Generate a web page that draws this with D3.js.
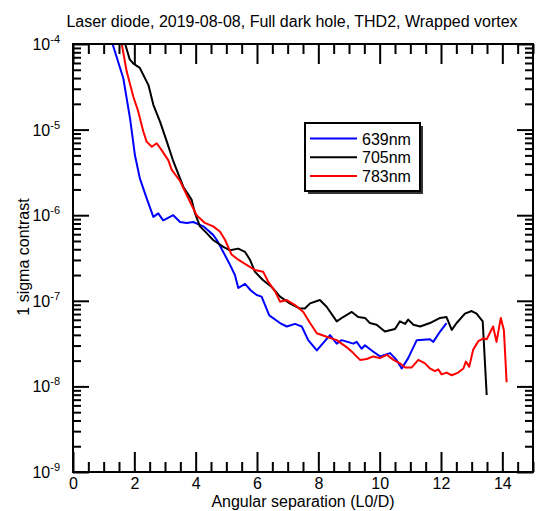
<!DOCTYPE html>
<html><head><meta charset="utf-8">
<script src="https://cdn.jsdelivr.net/npm/d3@7"></script>
<style>body{margin:0;background:#fff}text{font-family:"Liberation Sans",Arial,sans-serif}</style>
</head><body><svg id="c" width="543" height="511"></svg>
<script>
const title = "Laser diode, 2019-08-08, Full dark hole, THD2, Wrapped vortex";
const xLabel = "Angular separation (L0/D)";
const yLabel = "1 sigma contrast";
const seriesNames = ["639nm","705nm","783nm"];
const seriesColors = ["#0000ff","#000000","#ff0000"];
const xTicks = [0,2,4,6,8,10,12,14];
const yTicks = [1e-9,1e-8,1e-7,1e-6,1e-5,1e-4];
const yTickExp = ["-9","-8","-7","-6","-5","-4"];

const x639 = [1.20,1.29,1.64,1.86,2.02,2.18,2.40,2.62,2.78,2.94,3.10,3.27,3.49,3.71,3.92,4.25,4.57,4.69,4.90,5.12,5.28,5.39,5.61,5.80,5.99,6.15,6.40,6.75,6.97,7.24,7.46,7.67,7.95,8.38,8.60,8.76,9.14,9.25,9.41,9.52,9.74,10.01,10.34,10.55,10.72,10.93,11.21,11.64,11.75,11.97,12.18];
const y639 = [1.58e-4,1.0e-4,3.98e-5,1.35e-5,5.01e-6,2.69e-6,1.58e-6,9.55e-7,1.05e-6,8.71e-7,9.33e-7,1.0e-6,8.32e-7,8.13e-7,8.32e-7,7.41e-7,5.89e-7,5.13e-7,3.72e-7,2.63e-7,2.00e-7,1.41e-7,1.58e-7,1.32e-7,1.17e-7,1.12e-7,6.76e-8,5.50e-8,5.01e-8,5.37e-8,5.01e-8,3.47e-8,2.63e-8,3.98e-8,3.16e-8,3.47e-8,3.16e-8,3.31e-8,2.75e-8,3.02e-8,2.63e-8,2.24e-8,2.45e-8,2.04e-8,1.62e-8,2.14e-8,3.47e-8,3.55e-8,3.31e-8,4.37e-8,5.50e-8];

const x705 = [1.65,1.70,1.85,1.97,2.18,2.46,2.62,2.84,3.06,3.27,3.49,3.60,3.87,3.98,4.14,4.36,4.57,4.90,5.12,5.39,5.61,5.77,5.93,6.20,6.48,6.75,7.07,7.40,7.56,7.73,8.05,8.27,8.60,8.81,9.09,9.30,9.52,9.68,9.90,10.17,10.50,10.66,10.83,10.93,11.10,11.32,11.64,11.97,12.18,12.35,12.51,12.78,13.00,13.16,13.36,13.49];
const y705 = [1.26e-4,1.0e-4,6.61e-5,5.89e-5,5.25e-5,3.31e-5,1.95e-5,1.23e-5,7.24e-6,4.27e-6,2.69e-6,2.14e-6,1.51e-6,1.05e-6,7.41e-7,6.17e-7,5.13e-7,4.27e-7,3.89e-7,4.07e-7,3.72e-7,3.02e-7,2.19e-7,1.74e-7,1.45e-7,1.12e-7,9.33e-8,8.13e-8,8.13e-8,9.33e-8,1.02e-7,8.51e-8,5.75e-8,6.46e-8,7.41e-8,6.46e-8,6.31e-8,5.50e-8,5.25e-8,4.37e-8,4.68e-8,5.75e-8,5.37e-8,6.03e-8,5.25e-8,5.01e-8,5.50e-8,6.31e-8,6.46e-8,4.57e-8,5.50e-8,7.08e-8,7.59e-8,7.08e-8,5.75e-8,7.94e-9];

const x783 = [1.55,1.59,1.75,1.97,2.13,2.29,2.40,2.57,2.73,2.89,3.11,3.22,3.49,3.76,4.03,4.30,4.57,4.79,4.96,5.17,5.39,5.66,5.93,6.20,6.37,6.59,6.75,6.97,7.24,7.51,7.73,7.95,8.27,8.60,8.92,9.14,9.36,9.58,9.79,10.01,10.23,10.45,10.66,10.83,11.04,11.26,11.48,11.64,11.80,11.91,12.02,12.18,12.35,12.56,12.73,12.81,12.92,13.05,13.22,13.38,13.49,13.70,13.81,13.95,14.05,14.14];
const y783 = [1.26e-4,1.0e-4,4.79e-5,2.40e-5,1.62e-5,9.55e-6,7.24e-6,6.31e-6,6.92e-6,5.75e-6,4.37e-6,3.39e-6,2.51e-6,1.58e-6,1.0e-6,8.13e-7,7.41e-7,6.46e-7,5.13e-7,3.47e-7,3.02e-7,2.63e-7,2.29e-7,2.19e-7,1.66e-7,1.29e-7,9.77e-8,1.02e-7,8.91e-8,7.41e-8,5.50e-8,4.17e-8,3.80e-8,3.47e-8,2.88e-8,2.45e-8,2.04e-8,2.09e-8,2.24e-8,2.14e-8,2.34e-8,2.04e-8,1.86e-8,1.66e-8,1.66e-8,2.04e-8,1.86e-8,1.62e-8,1.51e-8,1.58e-8,1.38e-8,1.45e-8,1.35e-8,1.45e-8,1.62e-8,1.95e-8,1.70e-8,2.69e-8,3.39e-8,3.63e-8,3.55e-8,5.01e-8,3.31e-8,6.31e-8,4.57e-8,1.12e-8];

const seriesX = [x639,x705,x783];
const seriesY = [y639,y705,y783];

const L=73,R=533,T=44,B=472;
const FS=16;
const svg = d3.select("#c");
const x = d3.scaleLinear().domain([0,15]).range([L,R]);
const y = d3.scaleLog().domain([1e-9,1e-4]).range([B,T]);

svg.append("defs").append("clipPath").attr("id","clip").append("rect")
  .attr("x",L).attr("y",T).attr("width",R-L).attr("height",B-T);

const xMinor = d3.range(0,15.01,0.5).filter(v=>v%2!==0);
const yMinor = [];
for(let e=-9;e<-4;e++) for(let m=2;m<=9;m++) yMinor.push(m*Math.pow(10,e));

function styleAxis(g){ g.select(".domain").remove(); g.selectAll("line").attr("stroke","#000").attr("stroke-width",2); }

svg.append("g").attr("transform",`translate(0,${B})`).call(d3.axisBottom(x).tickValues(xMinor).tickSize(-10).tickFormat("")).call(styleAxis);
svg.append("g").attr("transform",`translate(0,${T})`).call(d3.axisTop(x).tickValues(xMinor).tickSize(-10).tickFormat("")).call(styleAxis);
svg.append("g").attr("transform",`translate(0,${T})`).call(d3.axisTop(x).tickValues(xTicks).tickSize(-20).tickFormat("")).call(styleAxis);
const xb = svg.append("g").attr("transform",`translate(0,${B})`).call(d3.axisBottom(x).tickValues(xTicks).tickSize(-20).tickPadding(0).tickFormat(d3.format("d"))).call(styleAxis);
xb.selectAll("text").attr("y",17).attr("dy",null).attr("font-size",FS).attr("fill","#000").attr("font-family","Liberation Sans, Arial, sans-serif");

svg.append("g").attr("transform",`translate(${L},0)`).call(d3.axisLeft(y).tickValues(yMinor).tickSize(-8).tickFormat("")).call(styleAxis);
svg.append("g").attr("transform",`translate(${R},0)`).call(d3.axisRight(y).tickValues(yMinor).tickSize(-8).tickFormat("")).call(styleAxis);
svg.append("g").attr("transform",`translate(${R},0)`).call(d3.axisRight(y).tickValues(yTicks).tickSize(-16).tickFormat("")).call(styleAxis);
svg.append("g").attr("transform",`translate(${L},0)`).call(d3.axisLeft(y).tickValues(yTicks).tickSize(-16).tickFormat("")).call(styleAxis);

// y tick labels
yTicks.forEach((v,i)=>{
  const t = svg.append("text").attr("x",60).attr("y",y(v)+6).attr("text-anchor","end").attr("font-size",FS);
  t.append("tspan").text("10");
  t.append("tspan").attr("dy",-7).attr("font-size",11).text(yTickExp[i]);
});

// lines
const plot = svg.append("g").attr("clip-path","url(#clip)");
const line = d3.line().x(d=>x(d[0])).y(d=>y(d[1]));
seriesX.forEach((xs,i)=>{
  const pts = xs.map((v,j)=>[v,seriesY[i][j]]);
  plot.append("path").attr("d",line(pts)).attr("fill","none").attr("stroke",seriesColors[i]).attr("stroke-width",2).attr("stroke-linejoin","round");
});

// frame
svg.append("rect").attr("x",L).attr("y",T).attr("width",R-L).attr("height",B-T).attr("fill","none").attr("stroke","#000").attr("stroke-width",2);

// legend
const lg = svg.append("g");
lg.append("rect").attr("x",308).attr("y",126).attr("width",115).attr("height",68).attr("fill","#333");
lg.append("rect").attr("x",305).attr("y",123).attr("width",115).attr("height",68).attr("fill","#fff").attr("stroke","#000").attr("stroke-width",2);
seriesNames.forEach((n,i)=>{
  const yy = 138.5 + i*18.7;
  lg.append("line").attr("x1",310).attr("x2",357).attr("y1",yy).attr("y2",yy).attr("stroke",seriesColors[i]).attr("stroke-width",2);
  lg.append("text").attr("x",362).attr("y",yy+6).attr("font-size",FS).text(n);
});

// titles
svg.append("text").attr("x",292).attr("y",27).attr("text-anchor","middle").attr("font-size",FS).text(title);
svg.append("text").attr("x",303).attr("y",507).attr("text-anchor","middle").attr("font-size",FS).text(xLabel);
svg.append("text").attr("transform","translate(29,257) rotate(-90)").attr("text-anchor","middle").attr("font-size",FS).text(yLabel);
</script></body></html>
